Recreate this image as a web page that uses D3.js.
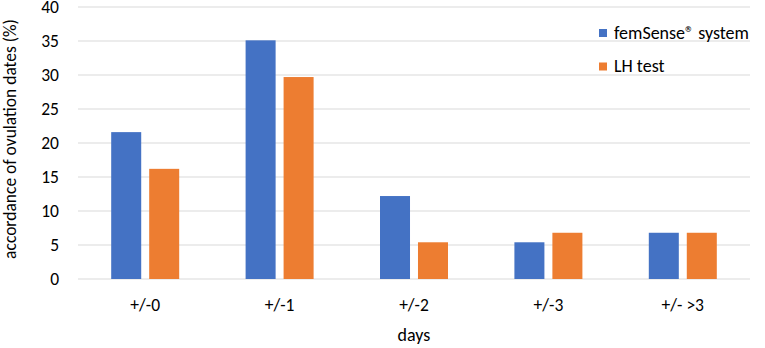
<!DOCTYPE html>
<html>
<head>
<meta charset="utf-8">
<script src="https://cdn.jsdelivr.net/npm/d3@7"></script>
<style>
  body { margin: 0; background: #fff; }
  svg { display: block; font-family: Carlito, Calibri, Lato, sans-serif; }
</style>
</head>
<body>
<svg id="chart" width="765" height="348"></svg>
<script>
const categories = ["+/-0", "+/-1", "+/-2", "+/-3", "+/- >3"];
const seriesNames = ["femSense\u00AE system", "LH test"];
const femSense = [21.6, 35.1, 12.2, 5.4, 6.8];
const lhTest = [16.2, 29.7, 5.4, 6.8, 6.8];
const yTicks = [0, 5, 10, 15, 20, 25, 30, 35, 40];
const colors = ["#4472C4", "#ED7D31"];

(() => {
  const width = 765;
  const height = 348;
  const margin = { top: 7, right: 15, bottom: 69, left: 78 };
  const innerWidth = width - margin.left - margin.right;
  const innerHeight = height - margin.top - margin.bottom;

  const svg = d3.select("#chart");
  const g = svg.append("g")
    .attr("transform", `translate(${margin.left}, ${margin.top})`);

  const data = categories.map((c, i) => ({ cat: c, values: [femSense[i], lhTest[i]] }));

  const x0 = d3.scaleBand()
    .domain(categories)
    .range([0, innerWidth]);

  const groupWidth = 68;
  const x1 = d3.scaleBand()
    .domain([0, 1])
    .range([0, groupWidth])
    .paddingInner(0.21);

  const y = d3.scaleLinear()
    .domain([0, 40])
    .range([innerHeight, 0]);

  // gridlines
  g.append("g")
    .selectAll("line")
    .data(yTicks)
    .join("line")
    .attr("x1", 0)
    .attr("x2", innerWidth)
    .attr("y1", d => y(d))
    .attr("y2", d => y(d))
    .attr("stroke", "#D9D9D9")
    .attr("stroke-width", 1.2);

  // y tick labels
  g.append("g")
    .selectAll("text")
    .data(yTicks)
    .join("text")
    .attr("x", -19)
    .attr("y", d => y(d))
    .attr("dy", "0.36em")
    .attr("text-anchor", "end")
    .attr("fill", "#000")
    .style("font-size", "17.5px")
    .text(d => d);

  // bars
  const groups = g.selectAll(".grp")
    .data(data)
    .join("g")
    .attr("class", "grp")
    .attr("transform", d => `translate(${x0(d.cat) + (x0.bandwidth() - groupWidth) / 2}, 0)`);

  groups.selectAll("rect")
    .data(d => d.values.map((v, i) => ({ i, v })))
    .join("rect")
    .attr("x", d => x1(d.i))
    .attr("y", d => y(d.v))
    .attr("width", x1.bandwidth())
    .attr("height", d => innerHeight - y(d.v))
    .attr("fill", d => colors[d.i]);

  // x category labels
  g.append("g")
    .selectAll("text")
    .data(categories)
    .join("text")
    .attr("x", d => x0(d) + x0.bandwidth() / 2)
    .attr("y", innerHeight + 32)
    .attr("text-anchor", "middle")
    .attr("fill", "#000")
    .style("font-size", "17.5px")
    .text(d => d);

  // axis titles
  g.append("text")
    .attr("x", innerWidth / 2)
    .attr("y", innerHeight + 62)
    .attr("text-anchor", "middle")
    .style("font-size", "18px")
    .text("days");

  svg.append("text")
    .attr("transform", "rotate(-90)")
    .attr("x", -(margin.top + innerHeight / 2) + 4)
    .attr("y", 16)
    .attr("text-anchor", "middle")
    .style("font-size", "17.5px")
    .text("accordance of ovulation dates (%)");

  // legend
  const legend = svg.append("g");
  seriesNames.forEach((name, i) => {
    const ly = 33 + i * 33.5;
    legend.append("rect")
      .attr("x", 599)
      .attr("y", ly - 4)
      .attr("width", 8)
      .attr("height", 8)
      .attr("fill", colors[i]);
    legend.append("text")
      .attr("x", 614)
      .attr("y", ly + 5.5)
      .style("font-size", "18px")
      .text(name);
  });
})();
</script>
</body>
</html>
